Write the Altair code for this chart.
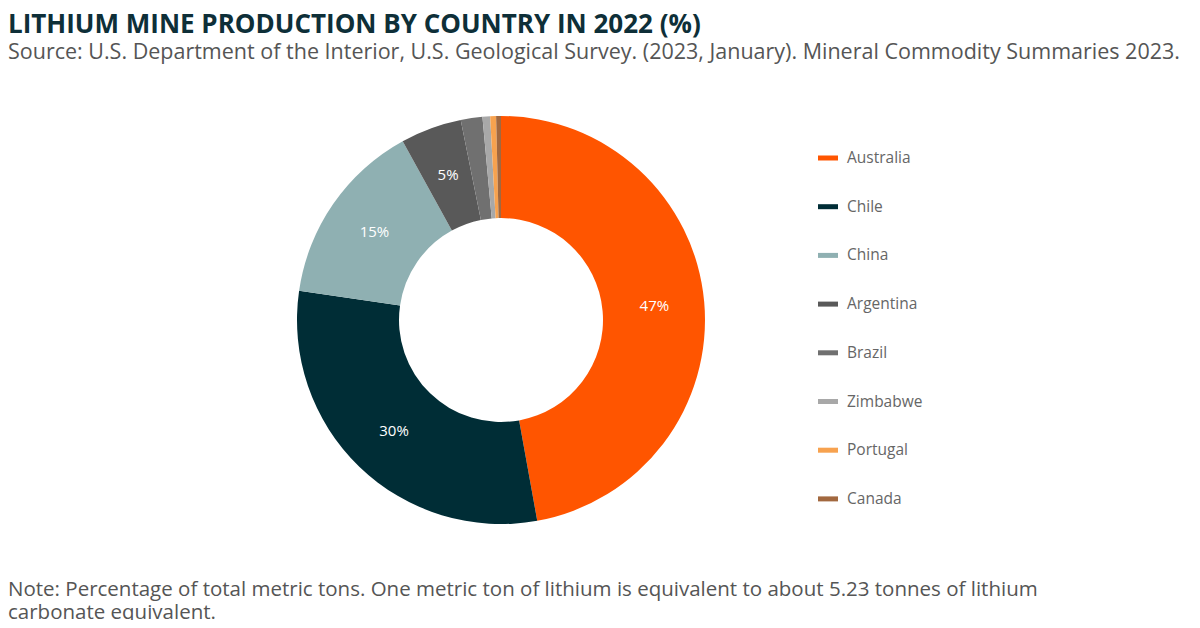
import altair as alt
import pandas as pd

countries = ["Australia", "Chile", "China", "Argentina", "Brazil", "Zimbabwe", "Portugal", "Canada"]
shares = [46.8, 29.9, 14.6, 4.8, 1.7, 0.6, 0.46, 0.38]
labels = ["47%", "30%", "15%", "5%", "", "", "", ""]
colors = ["#FF5500", "#002D36", "#8FB0B2", "#595959", "#707070", "#A8A8A8", "#F7A24F", "#A2683F"]

title_text = "LITHIUM MINE PRODUCTION BY COUNTRY IN 2022 (%)"
subtitle_text = "Source: U.S. Department of the Interior, U.S. Geological Survey. (2023, January). Mineral Commodity Summaries 2023."
note_lines = [
    "Note: Percentage of total metric tons. One metric ton of lithium is equivalent to about 5.23 tonnes of lithium",
    "carbonate equivalent.",
]

df = pd.DataFrame({
    "country": countries,
    "share": shares,
    "label": labels,
    "idx": list(range(len(countries))),
})

FONT = "Open Sans"
CX, CY = 493, 312

color_enc = alt.Color(
    "country:N",
    sort=countries,
    scale=alt.Scale(domain=countries, range=colors),
    legend=alt.Legend(
        title=None,
        orient="none",
        legendX=810,
        legendY=140,
        symbolType="M-1,-0.25L1,-0.25L1,0.25L-1,0.25Z",
        symbolSize=400,
        symbolStrokeWidth=0,
        labelFont=FONT,
        labelFontSize=15.5,
        labelColor="#666666",
        labelOffset=9,
        rowPadding=29.7,
    ),
)

base = alt.Chart(df).encode(
    theta=alt.Theta("share:Q", stack=True),
    order=alt.Order("idx:Q"),
    x=alt.value(CX),
    y=alt.value(CY),
)

arcs = base.mark_arc(innerRadius=102, outerRadius=204).encode(color=color_enc)

texts = base.mark_text(radius=154, color="white", font=FONT, fontSize=15).encode(text="label:N")


def text_layer(txt, y, size, weight="normal", color="#555555"):
    return alt.Chart(pd.DataFrame({"t": [txt]})).mark_text(
        align="left", baseline="alphabetic", font=FONT, fontSize=size, fontWeight=weight, color=color
    ).encode(x=alt.value(0), y=alt.value(y), text="t:N")


title = text_layer(title_text, 25, 26, "bold", "#0E2F38")
subtitle = text_layer(subtitle_text, 51, 21.5)
note1 = text_layer(note_lines[0], 588, 20.5)
note2 = text_layer(note_lines[1], 611, 20.5)

chart = alt.layer(arcs, texts, title, subtitle, note1, note2).properties(
    width=1184,
    height=612,
    padding=0,
    autosize=alt.AutoSizeParams(type="none"),
).configure(background="white").configure_view(stroke=None)

chart.save("out.html", embed_options={"renderer": "svg", "actions": False})
